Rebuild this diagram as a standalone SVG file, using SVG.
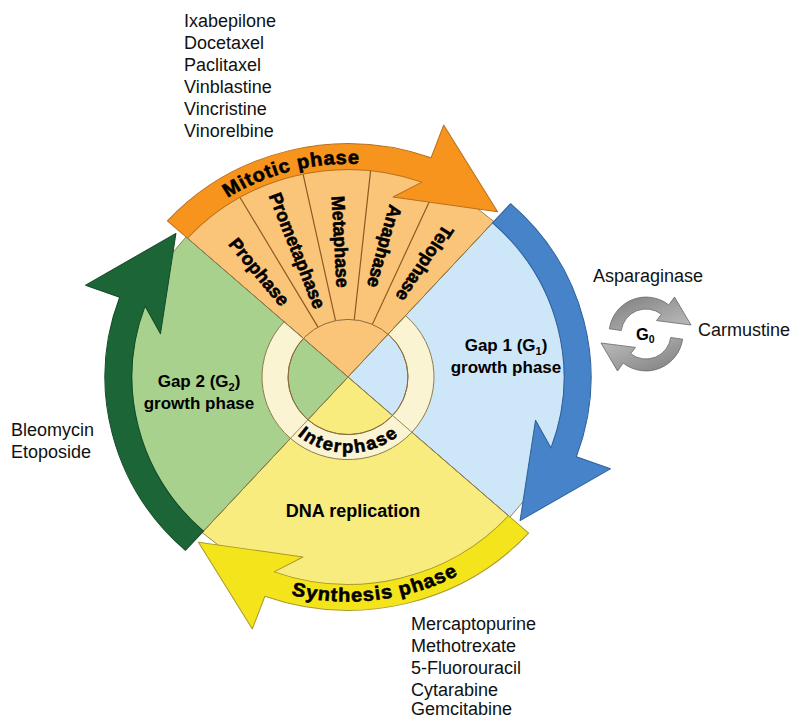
<svg xmlns="http://www.w3.org/2000/svg" width="791" height="717" viewBox="0 0 791 717">
<style>
.lbl{font-family:"Liberation Sans",Arial,sans-serif;font-weight:bold;fill:#000;}
.heavy{stroke:#000;stroke-width:0.6;}
.drug{font-family:"Liberation Sans",Arial,sans-serif;font-size:18px;fill:#111;}
.fan{font-size:18.5px;text-anchor:middle;}
.sec{stroke:#8a7a4a;stroke-width:0.9;}
.div{stroke:#8a5a20;stroke-width:1.2;fill:none;}
.band{stroke-width:1;stroke-linejoin:round;}
</style>
<defs>
<path id="arr" d="M243,0 A243,243 0 0 1 91.03,225.31 L104.5,259 L3.98,227.97 L92,169.5 L80.91,200.28 A216,216 0 0 0 216,0 Z"/>
<path id="pMit" d="M-156.98,-156.98 A222,222 0 0 1 57.46,-214.44"/>
<path id="pSyn" d="M-91.43,215.40 A234,234 0 0 0 140.83,186.88"/>
<path id="pInt" d="M-68.42,39.5 A79,79 0 0 0 68.42,39.5"/>
<path id="g0arr" d="M-36.6,-5.2 A37,37 0 0 1 22.8,-29.1 L28.5,-37 L45,-9 L10.5,-13.4 L15.4,-19.7 A25,25 0 0 0 -24.76,-3.48 Z"/>
<linearGradient id="gg" x1="0" y1="0" x2="1" y2="1">
<stop offset="0" stop-color="#7e7e7e"/>
<stop offset="1" stop-color="#c0c0c0"/>
</linearGradient>
</defs>

<g transform="translate(348,377) scale(1,0.96)">
  <g id="mitotic-sector">
    <path class="sec" fill="#FAC479" d="M0,0 L-162,-145.87 A218,218 0 0 1 145.87,-162 Z"/>
    <path class="div" d="M-30,-51.96 L-109,-188.79 M-12.47,-58.69 L-45.32,-213.23 M6.27,-59.67 L22.79,-216.81 M24.40,-54.81 L88.67,-199.15"/>
  </g>
  <g id="g1-sector"><path class="sec" fill="#CDE6F8" d="M0,0 L145.87,-162 A218,218 0 0 1 162,145.87 Z"/></g>
  <g id="s-sector"><path class="sec" fill="#F7EC7D" d="M0,0 L162,145.87 A218,218 0 0 1 -145.87,162 Z"/></g>
  <g id="g2-sector"><path class="sec" fill="#A7D18D" d="M0,0 L-145.87,162 A218,218 0 0 1 -162,-145.87 Z"/></g>

  <g id="interphase-ring">
    <path fill="#FBF4D3" stroke="#8a7a4a" stroke-width="1" d="M57.54,-63.91 A86,86 0 1 1 -63.91,-57.54 L-44.59,-40.15 A60,60 0 1 0 40.15,-44.59 Z"/>
    <circle r="60" fill="none" stroke="#8a6a3a" stroke-width="1"/>
    <path class="sec" fill="none" d="M-162,-145.87 L162,145.87 M145.87,-162 L-145.87,162"/>
    <text class="lbl heavy" font-size="18.5" letter-spacing="0.5"><textPath href="#pInt" startOffset="50%" text-anchor="middle" textLength="110" lengthAdjust="spacing">Interphase</textPath></text>
  </g>

  <g id="connectors">
    <use href="#arr" class="band" fill="#1B6537" stroke="#124a27" transform="rotate(132)"/>
    <use href="#arr" class="band" fill="#F4E41C" stroke="#a89a2a" transform="rotate(42)"/>
    <use href="#arr" class="band" fill="#4683C8" stroke="#2d5f99" transform="rotate(-48)"/>
    <use href="#arr" class="band" fill="#F7941E" stroke="#b8701c" transform="rotate(-138)"/>
  </g>

  <g id="mitotic-labels" class="lbl fan heavy">
    <text transform="rotate(-129) translate(141,0) rotate(180)" dy="6.5">Prophase</text>
    <text transform="rotate(-111) translate(141,0) rotate(180)" dy="6.5">Prometaphase</text>
    <text transform="rotate(-93) translate(141,0) rotate(180)" dy="6.5">Metaphase</text>
    <text transform="rotate(-75) translate(141,0) rotate(180)" dy="6.5">Anaphase</text>
    <text transform="rotate(-57) translate(141,0) rotate(180)" dy="6.5">Telophase</text>
  </g>
  <text class="lbl heavy" font-size="20"><textPath href="#pMit" startOffset="50%" text-anchor="middle" textLength="138" lengthAdjust="spacing">Mitotic phase</textPath></text>
  <text class="lbl heavy" font-size="20"><textPath href="#pSyn" startOffset="50%" text-anchor="middle" textLength="172" lengthAdjust="spacing">Synthesis phase</textPath></text>
</g>

<g id="g1-label" class="lbl" font-size="17" text-anchor="middle">
  <text x="506" y="351">Gap 1 (G<tspan font-size="11" dy="4">1</tspan><tspan dy="-4">)</tspan></text>
  <text x="506" y="373">growth phase</text>
</g>
<g id="g2-label" class="lbl" font-size="17" text-anchor="middle">
  <text x="199" y="387">Gap 2 (G<tspan font-size="11" dy="4">2</tspan><tspan dy="-4">)</tspan></text>
  <text x="199" y="409">growth phase</text>
</g>
<g id="s-label"><text class="lbl" font-size="18" x="353" y="517" text-anchor="middle">DNA replication</text></g>

<g id="g0">
  <g transform="translate(646,334)">
    <use href="#g0arr" fill="url(#gg)" stroke="#666" stroke-width="0.8"/>
    <use href="#g0arr" fill="url(#gg)" stroke="#666" stroke-width="0.8" transform="rotate(180)"/>
    <text class="lbl" font-size="16.5" x="-10" y="6">G<tspan font-size="10.5" dy="3">0</tspan></text>
  </g>
</g>

<g id="mitotic-drugs" class="drug">
  <text x="184" y="27">Ixabepilone</text>
  <text x="184" y="49">Docetaxel</text>
  <text x="184" y="71">Paclitaxel</text>
  <text x="184" y="93">Vinblastine</text>
  <text x="184" y="115">Vincristine</text>
  <text x="184" y="137">Vinorelbine</text>
</g>
<g id="g2-drugs" class="drug">
  <text x="11" y="436">Bleomycin</text>
  <text x="11" y="458">Etoposide</text>
</g>
<g id="g1-drugs" class="drug">
  <text x="593" y="282">Asparaginase</text>
  <text x="698" y="336">Carmustine</text>
</g>
<g id="s-drugs" class="drug">
  <text x="411" y="630">Mercaptopurine</text>
  <text x="411" y="652">Methotrexate</text>
  <text x="411" y="674">5-Fluorouracil</text>
  <text x="411" y="696">Cytarabine</text>
  <text x="411" y="715">Gemcitabine</text>
</g>
</svg>
